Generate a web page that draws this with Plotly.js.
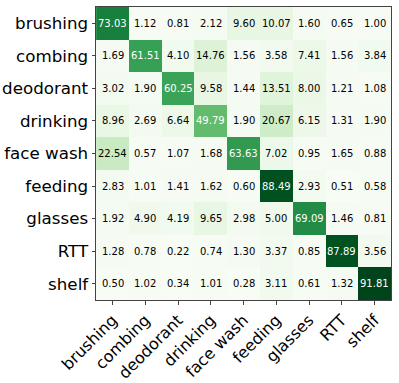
<!DOCTYPE html>
<html>
<head>
<meta charset="utf-8">
<script src="https://cdn.plot.ly/plotly-3.0.1.min.js"></script>
<style>
  html, body { margin: 0; padding: 0; background: #fff; }
  #myPlot { width: 399px; height: 383px; }
</style>
</head>
<body>
<div id="myPlot"></div>
<script>
var classes = ["brushing", "combing", "deodorant", "drinking", "face wash", "feeding", "glasses", "RTT", "shelf"];

var rowBrushing  = [73.03, 1.12, 0.81, 2.12, 9.60, 10.07, 1.60, 0.65, 1.00];
var rowCombing   = [1.69, 61.51, 4.10, 14.76, 1.56, 3.58, 7.41, 1.56, 3.84];
var rowDeodorant = [3.02, 1.90, 60.25, 9.58, 1.44, 13.51, 8.00, 1.21, 1.08];
var rowDrinking  = [8.96, 2.69, 6.64, 49.79, 1.90, 20.67, 6.15, 1.31, 1.90];
var rowFaceWash  = [22.54, 0.57, 1.07, 1.68, 63.63, 7.02, 0.95, 1.65, 0.88];
var rowFeeding   = [2.83, 1.01, 1.41, 1.62, 0.60, 88.49, 2.93, 0.51, 0.58];
var rowGlasses   = [1.92, 4.90, 4.19, 9.65, 2.98, 5.00, 69.09, 1.46, 0.81];
var rowRTT       = [1.28, 0.78, 0.22, 0.74, 1.30, 3.37, 0.85, 87.89, 3.56];
var rowShelf     = [0.50, 1.02, 0.34, 1.01, 0.28, 3.11, 0.61, 1.32, 91.81];

var z = [rowBrushing, rowCombing, rowDeodorant, rowDrinking, rowFaceWash,
         rowFeeding, rowGlasses, rowRTT, rowShelf];

// matplotlib "Greens"
var greens = [
  [0.000, "#f7fcf5"], [0.125, "#e5f5e0"], [0.250, "#c7e9c0"],
  [0.375, "#a1d99b"], [0.500, "#74c476"], [0.625, "#41ab5d"],
  [0.750, "#238b45"], [0.875, "#006d2c"], [1.000, "#00441b"]
];

var flat = [].concat.apply([], z);
var zmin = Math.min.apply(null, flat);
var zmax = Math.max.apply(null, flat);
var thresh = zmax / 2;

var annotations = [];
for (var i = 0; i < z.length; i++) {
  for (var j = 0; j < z[i].length; j++) {
    annotations.push({
      x: classes[j], y: classes[i], xref: "x", yref: "y",
      text: z[i][j].toFixed(2), showarrow: false,
      font: {family: "DejaVu Sans", size: 10, color: z[i][j] > thresh ? "#ffffff" : "#000000"}
    });
  }
}

var data = [{
  type: "heatmap",
  x: classes, y: classes, z: z,
  colorscale: greens, zmin: zmin, zmax: zmax,
  showscale: false, hoverinfo: "none"
}];

var layout = {
  width: 399, height: 383,
  margin: {l: 96, r: 8, t: 7, b: 83, pad: 0},
  paper_bgcolor: "#fff", plot_bgcolor: "#fff",
  font: {family: "DejaVu Sans", color: "#000"},
  xaxis: {
    tickangle: -45, tickfont: {size: 16}, ticks: "outside", ticklen: 3.5,
    tickcolor: "#444", showline: true, mirror: true, linecolor: "#444",
    linewidth: 1, showgrid: false, zeroline: false
  },
  yaxis: {
    autorange: "reversed", tickfont: {size: 16.7}, ticks: "outside", ticklen: 3.5,
    tickcolor: "#444", showline: true, mirror: true, linecolor: "#444",
    linewidth: 1, showgrid: false, zeroline: false
  },
  annotations: annotations
};

Plotly.newPlot("myPlot", data, layout, {displayModeBar: false, staticPlot: true});
</script>
</body>
</html>
